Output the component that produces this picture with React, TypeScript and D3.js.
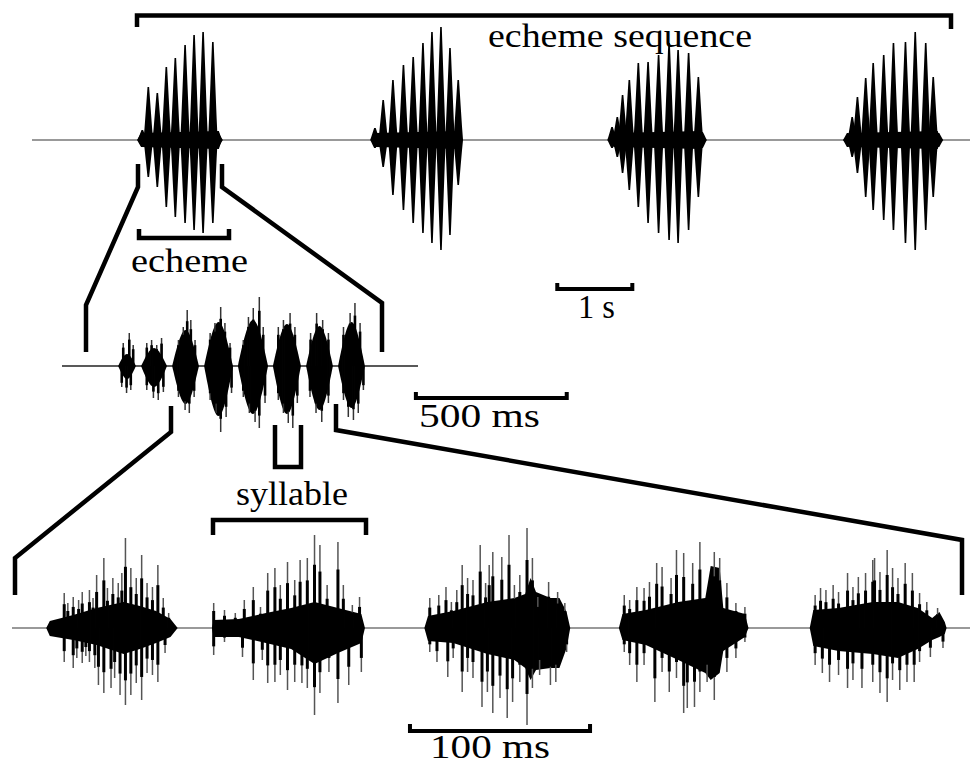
import React from "react";
import * as d3 from "d3";

// ---------- TOP ROW: echeme sequence (time in s, amplitude in arbitrary units) ----------
const echemeSpans: [number, number][] = [[1.4, 2.53], [4.53, 5.73], [7.7, 8.96], [10.83, 12.11]];
const echeme1Times = [1.47, 1.55, 1.67, 1.79, 1.91, 2.04, 2.16, 2.28, 2.41, 2.48];
const echeme1Up = [10, 53, 47, 73, 82, 95, 105, 108, 98, 7];
const echeme1Down = [7, 37, 47, 67, 77, 83, 90, 93, 83, 7];
const echeme2Times = [4.57, 4.68, 4.81, 4.95, 5.08, 5.21, 5.33, 5.45, 5.57, 5.68];
const echeme2Up = [12, 40, 60, 75, 83, 97, 108, 113, 92, 60];
const echeme2Down = [8, 27, 55, 70, 83, 93, 103, 110, 95, 45];
const echeme3Times = [7.73, 7.8, 7.87, 7.96, 8.08, 8.21, 8.35, 8.49, 8.61, 8.75, 8.88, 8.93];
const echeme3Up = [13, 23, 45, 60, 77, 78, 85, 97, 90, 87, 63, 8];
const echeme3Down = [8, 17, 33, 50, 67, 83, 93, 100, 103, 90, 57, 8];
const echeme4Times = [10.87, 10.93, 11.0, 11.11, 11.21, 11.35, 11.48, 11.64, 11.77, 11.91, 12.01, 12.08];
const echeme4Up = [7, 23, 43, 62, 77, 85, 97, 98, 108, 97, 63, 7];
const echeme4Down = [7, 17, 33, 57, 70, 80, 90, 103, 110, 90, 57, 7];

// ---------- MIDDLE ROW: one echeme (time in ms) ----------
const midSylStart = [186, 262, 365, 471, 583, 699, 809, 915];
const midSylEnd = [245, 348, 454, 567, 683, 792, 898, 1004];
const midBodyUp = [12, 18, 36, 44, 46, 42, 40, 44];
const midBodyDown = [13, 21, 38, 50, 48, 48, 44, 42];
const midSpikeUpT = [203, 223, 236, 281, 297, 314, 330, 386, 402, 415, 427, 441, 491, 507, 526, 540, 557, 601, 618, 634, 654, 667, 717, 734, 756, 772, 824, 844, 864, 883, 933, 955, 971, 988];
const midSpikeUpA = [23, 33, 21, 23, 26, 21, 28, 26, 39, 56, 46, 26, 33, 43, 59, 43, 23, 26, 49, 58, 69, 39, 39, 46, 53, 39, 33, 53, 46, 33, 39, 53, 63, 43];
const midSpikeDownT = [198, 214, 228, 281, 303, 319, 336, 386, 408, 422, 438, 491, 511, 526, 544, 562, 601, 621, 640, 654, 673, 717, 734, 750, 765, 780, 822, 842, 861, 883, 933, 949, 966, 982, 999];
const midSpikeDownA = [21, 27, 24, 24, 32, 34, 26, 31, 44, 47, 31, 34, 47, 66, 51, 27, 31, 47, 56, 62, 37, 34, 47, 57, 62, 37, 31, 47, 56, 37, 34, 51, 54, 47, 24];

// ---------- BOTTOM ROW: syllables (time in ms) ----------
const botBodyT = [
  [19, 21, 34, 47, 62, 71, 80, 88, 92],
  [111, 112, 126, 141, 155, 168, 181, 194, 196],
  [229, 231, 245, 264, 279, 285, 288, 291, 299, 304, 308, 310],
  [337, 339, 352, 370, 385, 388, 393, 395, 407, 409],
  [443, 445, 459, 478, 492, 503, 511, 515, 518, 519],
];
const botBodyUp = [
  [0, 7, 13, 20, 26, 22, 17, 9, 0],
  [0, 8, 9, 15, 20, 26, 20, 14, 0],
  [0, 12, 17, 26, 30, 34, 50, 36, 30, 30, 16, 0],
  [0, 14, 18, 26, 30, 62, 60, 20, 14, 0],
  [0, 18, 20, 26, 26, 20, 10, 16, 6, 0],
];
const botBodyDown = [
  [0, 8, 12, 17, 26, 21, 15, 9, 0],
  [0, 9, 9, 15, 21, 36, 25, 15, 0],
  [0, 13, 15, 26, 32, 40, 52, 42, 40, 40, 20, 0],
  [0, 12, 17, 32, 45, 52, 45, 23, 9, 0],
  [0, 18, 23, 26, 30, 21, 12, 9, 6, 0],
];
const botSpikeUpT = [
  [29, 31, 34, 37, 39, 43, 45, 47, 51, 53, 56, 59, 61, 63, 66, 69, 72, 75, 78, 81, 84, 87],
  [112, 118, 124, 129, 134, 138, 142, 146, 149, 153, 157, 160, 164, 168, 171, 175, 181, 184, 189, 193],
  [232, 237, 241, 244, 247, 250, 253, 256, 260, 263, 265, 267, 272, 276, 279, 282, 286, 289, 292, 298, 303, 307],
  [340, 343, 347, 351, 354, 358, 361, 366, 369, 373, 378, 382, 390, 393, 397, 402, 407],
  [446, 449, 452, 456, 459, 464, 467, 470, 474, 478, 479, 482, 486, 489, 492, 496, 500, 504, 508, 514],
];
const botSpikeUpA = [
  [35, 25, 31, 28, 36, 38, 30, 53, 70, 40, 50, 45, 55, 90, 60, 50, 73, 45, 41, 63, 30, 15],
  [25, 18, 15, 28, 41, 21, 55, 60, 43, 66, 48, 68, 70, 93, 83, 43, 86, 43, 23, 31],
  [30, 33, 41, 26, 38, 63, 50, 48, 83, 45, 63, 76, 71, 93, 43, 53, 100, 70, 31, 46, 36, 25],
  [33, 28, 41, 40, 46, 65, 61, 50, 78, 75, 65, 86, 76, 70, 45, 25, 21],
  [33, 40, 38, 43, 36, 55, 41, 51, 55, 68, 70, 56, 78, 60, 50, 65, 55, 35, 26, 20],
];
const botSpikeDownT = [
  [29, 34, 36, 39, 41, 43, 46, 48, 51, 55, 57, 60, 63, 66, 69, 72, 75, 78, 81, 85],
  [112, 118, 128, 134, 139, 142, 146, 149, 153, 157, 161, 164, 168, 171, 176, 181, 187, 194],
  [232, 236, 242, 245, 250, 253, 256, 261, 264, 267, 271, 275, 278, 282, 286, 289, 293, 299, 302, 308],
  [340, 343, 347, 351, 357, 361, 365, 369, 373, 375, 379, 382, 386, 390, 397, 402, 407],
  [446, 450, 454, 459, 464, 467, 472, 478, 482, 486, 489, 493, 497, 501, 504, 510, 517],
];
const botSpikeDownA = [
  [34, 40, 30, 35, 28, 34, 40, 57, 65, 60, 50, 67, 77, 67, 55, 72, 45, 47, 54, 25],
  [27, 14, 29, 52, 32, 55, 54, 47, 62, 54, 55, 60, 87, 65, 44, 75, 57, 44],
  [24, 34, 49, 30, 64, 44, 50, 79, 64, 85, 70, 90, 74, 54, 97, 60, 47, 57, 54, 24],
  [24, 37, 54, 37, 74, 44, 64, 50, 85, 80, 79, 64, 54, 72, 44, 30, 14],
  [37, 45, 54, 47, 60, 52, 60, 54, 65, 74, 52, 62, 54, 54, 34, 29, 20],
];

// ---------- scale bars and labels ----------
const topBar = [7, 8]; // 1 s
const midBar = [1173, 1673]; // 500 ms
const botBar = [221, 321]; // 100 ms
const labels = ["echeme sequence", "echeme", "1 s", "500 ms", "syllable", "100 ms"];

const FONT = "Liberation Serif";

export default function App() {
  const xTop = d3.scaleLinear().domain([0, 12.5]).range([32, 970]);
  const yTop = d3.scaleLinear().domain([-120, 120]).range([260, 20]);
  const xMid = d3.scaleLinear().domain([0, 1180]).range([62, 418]);
  const yMid = d3.scaleLinear().domain([-120, 120]).range([486, 246]);
  const xBot = d3.scaleLinear().domain([0, 532]).range([12, 970]);
  const yBot = d3.scaleLinear().domain([-120, 120]).range([748, 508]);

  const echemes = [
    { t: echeme1Times, u: echeme1Up, d: echeme1Down },
    { t: echeme2Times, u: echeme2Up, d: echeme2Down },
    { t: echeme3Times, u: echeme3Up, d: echeme3Down },
    { t: echeme4Times, u: echeme4Up, d: echeme4Down },
  ];

  const spindle = (x: number, yu: number, y0: number, yd: number) => {
    const a = y0 - (y0 - yu) * 0.58;
    const b = y0 + (yd - y0) * 0.58;
    const a2 = y0 - (y0 - yu) * 0.22;
    const b2 = y0 + (yd - y0) * 0.22;
    return `M${x - 0.8},${yu}L${x + 0.8},${yu}L${x + 2.4},${a}L${x + 3.8},${a2}L${x + 4.8},${y0}L${x + 3.8},${b2}L${x + 2.4},${b}L${x + 0.8},${yd}L${x - 0.8},${yd}L${x - 2.4},${b}L${x - 3.8},${b2}L${x - 4.8},${y0}L${x - 3.8},${a2}L${x - 2.4},${a}Z`;
  };

  const diamond = d3
    .area<[number, number, number]>()
    .x((d) => xMid(d[0]))
    .y0((d) => yMid(-d[2]))
    .y1((d) => yMid(d[1]))
    .curve(d3.curveMonotoneX);

  const botArea = d3
    .area<[number, number, number]>()
    .x((d) => xBot(d[0]))
    .y0((d) => yBot(-d[2]))
    .y1((d) => yBot(d[1]));

  const bracket = { fill: "none", stroke: "#000", strokeWidth: 4.5, strokeLinejoin: "miter" as const };
  const txt = { fontFamily: FONT, fontSize: 34, fill: "#000" };

  return (
    <svg width={970} height={765} style={{ position: "absolute", left: 0, top: 0, background: "#fff" }}>
      <rect width={970} height={765} fill="#fff" />
      {/* baselines */}
      <line x1={xTop(0)} x2={xTop(12.5)} y1={yTop(0)} y2={yTop(0)} stroke="#777" strokeWidth={1.5} />
      <line x1={xMid(0)} x2={xMid(1180)} y1={yMid(0)} y2={yMid(0)} stroke="#222" strokeWidth={1.3} />
      <line x1={xBot(0)} x2={xBot(532)} y1={yBot(0)} y2={yBot(0)} stroke="#777" strokeWidth={1.5} />

      {/* top row echemes */}
      {echemeSpans.map(([s, e], i) => (
        <path
          key={"eb" + i}
          d={`M${xTop(s)},${yTop(0)}L${xTop(s) + 4},${yTop(7)}L${xTop(e) - 3},${yTop(9)}L${xTop(e)},${yTop(0)}L${xTop(e) - 3},${yTop(-9)}L${xTop(s) + 4},${yTop(-7)}Z`}
          fill="#000"
        />
      ))}
      {echemes.map((ec, i) =>
        ec.t.map((t, j) => (
          <path key={`p${i}-${j}`} d={spindle(xTop(t), yTop(ec.u[j]), yTop(0), yTop(-ec.d[j]))} fill="#000" />
        ))
      )}

      {/* middle row syllables */}
      {midSylStart.map((s, i) => {
        const e = midSylEnd[i];
        const pts: [number, number, number][] = [
          [s, 0, 0],
          [(s + e) / 2, midBodyUp[i], midBodyDown[i]],
          [e, 0, 0],
        ];
        return <path key={"ms" + i} d={diamond(pts) || ""} fill="#000" />;
      })}
      {midSpikeUpT.map((t, i) => (
        <g key={"mu" + i}>
          <line x1={xMid(t)} x2={xMid(t)} y1={yMid(0)} y2={yMid(midSpikeUpA[i])} stroke="#333" strokeWidth={1.5} />
          <line x1={xMid(t)} x2={xMid(t)} y1={yMid(0)} y2={yMid(midSpikeUpA[i] * 0.8)} stroke="#000" strokeWidth={2.6} />
        </g>
      ))}
      {midSpikeDownT.map((t, i) => (
        <g key={"md" + i}>
          <line x1={xMid(t)} x2={xMid(t)} y1={yMid(0)} y2={yMid(-midSpikeDownA[i])} stroke="#333" strokeWidth={1.5} />
          <line x1={xMid(t)} x2={xMid(t)} y1={yMid(0)} y2={yMid(-midSpikeDownA[i] * 0.8)} stroke="#000" strokeWidth={2.6} />
        </g>
      ))}

      {/* bottom row syllables */}
      {botBodyT.map((ts, i) => {
        const pts: [number, number, number][] = ts.map((t, j) => [t, botBodyUp[i][j], botBodyDown[i][j]]);
        return <path key={"bb" + i} d={botArea(pts) || ""} fill="#000" />;
      })}
      {botSpikeUpT.map((ts, i) =>
        ts.map((t, j) => (
          <g key={`bu${i}-${j}`}>
            <line x1={xBot(t)} x2={xBot(t)} y1={yBot(0)} y2={yBot(botSpikeUpA[i][j])} stroke="#555" strokeWidth={1.5} />
            <line x1={xBot(t)} x2={xBot(t)} y1={yBot(0)} y2={yBot(botSpikeUpA[i][j] * 0.68)} stroke="#000" strokeWidth={3} />
          </g>
        ))
      )}
      {botSpikeDownT.map((ts, i) =>
        ts.map((t, j) => (
          <g key={`bd${i}-${j}`}>
            <line x1={xBot(t)} x2={xBot(t)} y1={yBot(0)} y2={yBot(-botSpikeDownA[i][j])} stroke="#555" strokeWidth={1.5} />
            <line x1={xBot(t)} x2={xBot(t)} y1={yBot(0)} y2={yBot(-botSpikeDownA[i][j] * 0.68)} stroke="#000" strokeWidth={3} />
          </g>
        ))
      )}

      {/* brackets and zoom connectors */}
      <path d="M137,27V15.5H951V29" {...bracket} />
      <path d="M139,229V238H229V229" {...bracket} />
      <path d="M138,164V187L86,305V352" {...bracket} />
      <path d="M222,164V187L382,303V352" {...bracket} />
      <path d="M171,406V432L15,558V595" {...bracket} />
      <path d="M336,404V430L962,540V595" {...bracket} />
      <path d="M275,425V467H301V425" {...bracket} />
      <path d="M213,535V520H366V535" {...bracket} />

      {/* scale bars */}
      <path d={`M${xTop(topBar[0])},283V289H${xTop(topBar[1])}V283`} {...bracket} strokeWidth={4} />
      <path d={`M${xMid(midBar[0])},392V398H${xMid(midBar[1])}V392`} {...bracket} strokeWidth={4} />
      <path d={`M${xBot(botBar[0])},724V731H${xBot(botBar[1])}V724`} {...bracket} strokeWidth={4} />

      {/* labels */}
      <text x={488} y={47} textLength={264} lengthAdjust="spacingAndGlyphs" {...txt}>{labels[0]}</text>
      <text x={131} y={272} textLength={117} lengthAdjust="spacingAndGlyphs" {...txt}>{labels[1]}</text>
      <text x={578} y={318} textLength={37} lengthAdjust="spacingAndGlyphs" {...txt}>{labels[2]}</text>
      <text x={419} y={427} textLength={121} lengthAdjust="spacingAndGlyphs" {...txt}>{labels[3]}</text>
      <text x={236} y={505} textLength={112} lengthAdjust="spacingAndGlyphs" {...txt}>{labels[4]}</text>
      <text x={430} y={758} textLength={120} lengthAdjust="spacingAndGlyphs" {...txt}>{labels[5]}</text>
    </svg>
  );
}
